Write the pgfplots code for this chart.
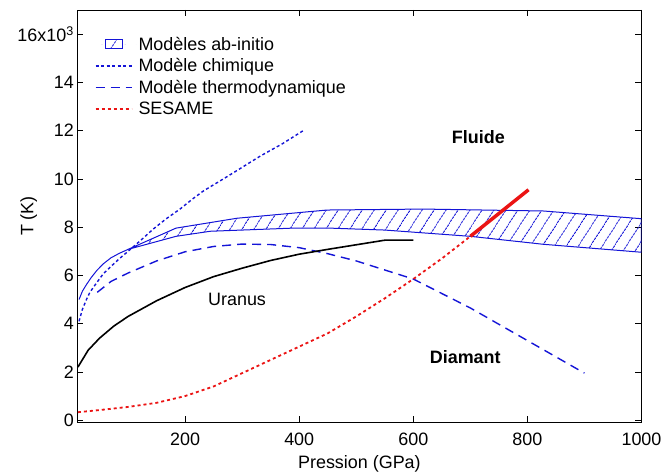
\documentclass[border=0pt]{standalone}
\usepackage{fontspec}
\setmainfont{Liberation Sans}
\usepackage{pgfplots}
\pgfplotsset{compat=1.18}
\usetikzlibrary{patterns.meta}
\definecolor{mblue}{RGB}{20,20,215}
\definecolor{mred}{RGB}{235,20,20}
\pgfplotsset{bandlegend/.style={legend image code/.code={\draw[##1] (10bp,-4bp) rectangle (27bp,5bp); \path[draw=none] (0bp,0bp) -- (41bp,0bp);}}}
\begin{document}
\begin{tikzpicture}
\begin{axis}[
  scale only axis, width=564bp, height=412bp,
  xmin=11, xmax=1000, ymin=-0.08, ymax=17,
  xtick={200,400,600,800,1000}, xticklabels={200,400,600,800,1000},
  ytick={0,2,...,16}, yticklabels={0,2,4,6,8,10,12,14,{16x10\textsuperscript{3}}},
  tick align=inside, major tick length=6bp,
  tick style={black, line width=0.8bp},
  axis line style={black, line width=0.8bp},
  ticklabel style={font=\fontsize{18}{20}\selectfont},
  xticklabel style={yshift=-7bp},
  label style={font=\fontsize{18}{20}\selectfont},
  xlabel={Pression (GPa)}, ylabel={T (K)},
  xlabel style={yshift=-3bp},
  every axis y label/.style={at={(axis description cs:-0.086,0.5)}, rotate=90, anchor=center, font=\fontsize{18}{20}\selectfont},
  legend style={draw=none, fill=none, at={(0.025,0.945)}, anchor=north west, font=\fontsize{18}{20}\selectfont, row sep=3bp},
  legend cell align=left,
  legend image code/.code={\draw[#1] (0bp,0bp) -- (36bp,0bp); \path[draw=none] (0bp,0bp) -- (41bp,0bp);},
]
\addplot[mblue, line width=1bp, pattern={Lines[angle=57,distance=10bp,line width=0.9bp]}, pattern color=mblue, bandlegend]
  coordinates {(100,7.08) (184,7.96) (291,8.37) (449,8.71) (618,8.75) (828,8.67) (1000,8.35)
               (1000,6.96) (828,7.29) (700,7.62) (550,7.88) (454,7.96) (389,7.96) (244,7.83) (184,7.62) (100,7.08)} -- cycle;
\addlegendentry{Modèles ab-initio}
\addplot[mblue, line width=1.4bp, dash pattern=on 3bp off 2.5bp]
  coordinates {(14,4.1) (20,4.6) (27,5.0) (33,5.3) (45,5.7) (56,6.05) (68,6.33) (84,6.68) (100,7.0) (122,7.45) (144,7.92) (167,8.35) (191,8.75) (212,9.15) (232,9.5) (274,10.1) (332,10.95) (370,11.45) (407,12.0)};
\addlegendentry{Modèle chimique}
\addplot[mblue, line width=1.4bp, dash pattern=on 9bp off 6bp]
  coordinates {(46,5.3) (70,5.75) (100,6.1) (150,6.6) (200,6.98) (250,7.2) (300,7.3) (350,7.28) (400,7.15) (450,6.9) (500,6.6) (600,5.85) (700,4.65) (800,3.3) (900,1.95)};
\addlegendentry{Modèle thermodynamique}
\addplot[mred, line width=1.8bp, dash pattern=on 3bp off 3bp]
  coordinates {(12,0.33) (50,0.42) (100,0.55) (150,0.72) (200,1.0) (250,1.4) (300,1.95) (350,2.5) (400,3.05) (450,3.6) (500,4.3) (550,5.05) (600,5.85) (650,6.7) (700,7.62)};
\addlegendentry{SESAME}
\addplot[mblue, line width=1bp, forget plot]
  coordinates {(14,5.0) (20,5.35) (27,5.62) (35,5.9) (45,6.2) (56,6.47) (70,6.73) (85,6.92) (100,7.08)};
\addplot[black, line width=1.6bp, forget plot]
  coordinates {(12,2.2) (30,2.9) (50,3.4) (75,3.9) (100,4.3) (150,4.95) (200,5.5) (250,5.95) (300,6.3) (350,6.62) (400,6.88) (450,7.08) (500,7.27) (550,7.46) (600,7.46)};
\addplot[mred, line width=3.5bp, forget plot] coordinates {(700,7.62) (802,9.55)};
\node[font=\bfseries\fontsize{18}{20}\selectfont] at (axis cs:714,11.75) {Fluide};
\node[font=\bfseries\fontsize{18}{20}\selectfont] at (axis cs:691,2.63) {Diamant};
\node[font=\fontsize{18}{20}\selectfont] at (axis cs:291,5.0) {Uranus};
\end{axis}
\pgfresetboundingbox
\path[use as bounding box] ([shift={(-77.3bp,-53bp)}]current axis.south west) rectangle ([shift={(22.5bp,10bp)}]current axis.north east);
\end{tikzpicture}
\end{document}
